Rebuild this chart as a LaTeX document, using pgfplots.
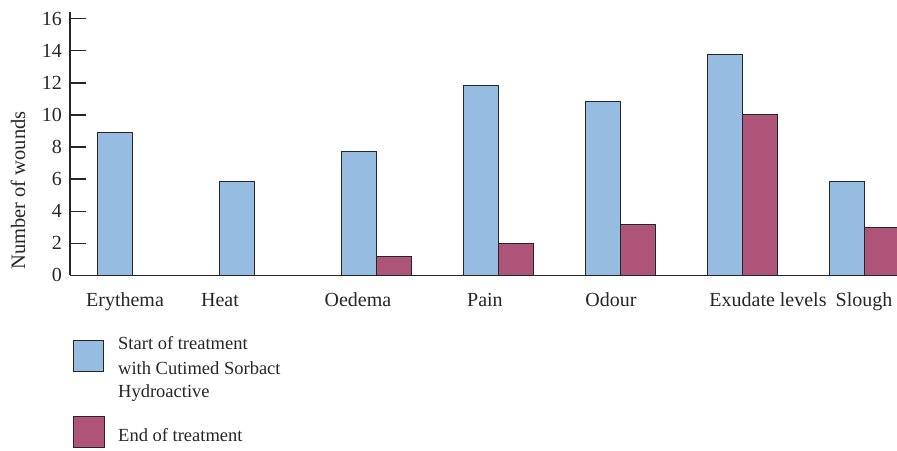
\documentclass[border=0pt]{standalone}
\usepackage{pgfplots}
\pgfplotsset{compat=1.18}
\usepackage{fontspec}
\setmainfont{Liberation Serif}
\definecolor{startblue}{RGB}{150,188,226}
\definecolor{endred}{RGB}{174,84,121}
\begin{document}
\begin{tikzpicture}[x=1pt,y=1pt]
\useasboundingbox (0,0) rectangle (897,450);
\begin{axis}[
  at={(70pt,174.7pt)}, anchor=south west,
  scale only axis, width=827pt, height=263.6pt,
  xmin=-0.5082, xmax=6.2705, ymin=0, ymax=16.44,
  axis lines=left,
  axis line style={-, line width=1.3pt, color=black!85},
  ytick={0,2,...,16},
  tick align=inside, major tick length=16pt,
  ytick style={line width=1.3pt, color=black!85},
  xtick={-0.057,0.721,1.852,2.893,3.926,5.213,6.0},
  xticklabels={Erythema,Heat,Oedema,Pain,Odour,Exudate levels,Slough},
  xtick style={draw=none},
  ticklabel style={font=\fontsize{20}{24}\selectfont, text=black!85},
  xticklabel style={anchor=base, yshift=-15pt},
  yticklabel style={anchor=east, xshift=-4.5pt},
  /pgf/number format/assume math mode=true,
  ybar=0pt, bar width=35pt,
]
\addplot[fill=startblue, draw=black!85, line width=1pt] coordinates {
  (0,8.9) (1,5.82) (2,7.75) (3,11.83) (4,10.85) (5,13.8) (6,5.82)};
\addplot[fill=endred, draw=black!85, line width=1pt] coordinates {
  (2,1.18) (3,2.0) (4,3.14) (5,10.05) (6,3.0)};
\end{axis}
\node[rotate=90, anchor=base, font=\fontsize{20.5}{24}\selectfont, text=black!85] at (25,259.5) {Number of wounds};
% legend
\draw[fill=startblue, draw=black!85, line width=1pt] (73.5,78.7) rectangle (103.7,109.3);
\draw[fill=endred, draw=black!85, line width=1pt] (73.7,2.3) rectangle (104.3,33.3);
\begin{scope}[every node/.style={anchor=base west, inner sep=0pt, font=\fontsize{18.5}{22}\selectfont, text=black!85}]
\node at (118,100) {Start of treatment};
\node at (118,75.7) {with Cutimed Sorbact};
\node at (118,52.7) {Hydroactive};
\node at (118,8.3) {End of treatment};
\end{scope}
\end{tikzpicture}
\end{document}
